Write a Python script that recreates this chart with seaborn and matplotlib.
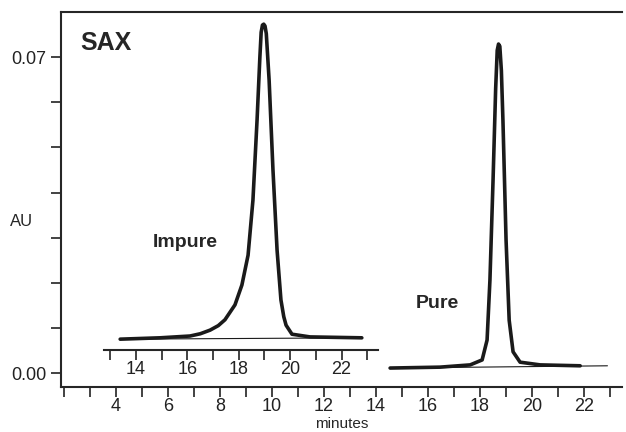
import matplotlib
matplotlib.use("Agg")
import matplotlib.pyplot as plt
import seaborn as sns

sns.set_style("ticks")
plt.rcParams['font.family'] = ['Liberation Sans', 'DejaVu Sans']

impure_t = [13.38,14.93,16.10,16.50,16.88,17.20,17.46,17.85,18.12,18.36,18.55,18.71,18.82,18.87,18.92,18.97,19.02,19.07,19.18,19.33,19.49,19.64,19.75,19.84,20.07,20.77,22.79]
impure_au = [.0075,.0078,.0082,.0087,.0095,.0105,.0118,.0151,.0195,.0261,.0383,.0560,.0700,.0755,.0771,.0773,.0769,.0752,.0649,.0450,.0272,.0162,.0125,.0106,.0086,.0080,.0078]
pure_t = [14.54,16.46,17.62,18.08,18.27,18.38,18.5,18.60,18.66,18.71,18.76,18.82,18.88,19.0,19.12,19.27,19.54,20.31,21.85]
pure_au = [.0011,.0013,.0018,.0029,.0073,.0206,.0428,.0630,.0715,.0729,.0724,.0670,.0560,.0295,.0117,.0047,.0024,.0018,.0016]
impure_base_t = [13.38, 22.79]
impure_base_au = [.0075, .0078]
pure_base_t = [14.54, 22.9]
pure_base_au = [.0011, .0016]
main_ticks = [4,6,8,10,12,14,16,18,20,22]
inset_ticks = [14,16,18,20,22]

W, H = 626, 432
fig = plt.figure(figsize=(6.26, 4.32), dpi=100)
ax = fig.add_axes([61/W, 1-387/H, (622-61)/W, (387-12)/H])
ax.set_xlim(1.88, 23.46)
ax.set_ylim(-0.0031, 0.080)
ax.spines['right'].set_visible(False)
for s in ax.spines.values():
    s.set_linewidth(1.5)
ax.set_xticks(main_ticks)
ax.set_xticks(range(2, 24), minor=True)
ax.set_yticks([0.0, 0.07])
ax.set_yticklabels(['0.00', '0.07'])
ax.set_yticks([i*0.01 for i in range(1, 7)], minor=True)
ax.tick_params(which='both', direction='out', length=7, width=1.2, labelsize=13, colors='#222222')
ax.tick_params(axis='x', which='major', pad=1)
ax.set_xlabel('minutes', fontsize=11, labelpad=1)
ax.text(-0.07, 0.43, 'AU', transform=ax.transAxes, fontsize=12, ha='center')
ax.text(0.035, 0.90, 'SAX', transform=ax.transAxes, fontsize=18, fontweight='bold')
sns.lineplot(x=pure_t, y=pure_au, ax=ax, color='#1a1a1a', lw=2.6, sort=False, estimator=None)
ax.plot(pure_base_t, pure_base_au, color='#1a1a1a', lw=0.8)
ax.text(15.54, 0.0144, 'Pure', fontsize=14, fontweight='bold')

ax2 = fig.add_axes([104/W, 1-350/H, (378-104)/W, (350-12)/H])
ax2.patch.set_alpha(0)
ax2.set_xlim(12.75, 23.42)
ax2.set_ylim(0.0051, 0.080)
for k in ['top', 'right', 'left']:
    ax2.spines[k].set_visible(False)
ax2.spines['bottom'].set_linewidth(1.5)
ax2.set_yticks([])
ax2.set_xticks(inset_ticks)
ax2.set_xticks(range(13, 24), minor=True)
ax2.tick_params(which='both', direction='out', length=7, width=1.2, labelsize=13, colors='#222222', pad=1)
sns.lineplot(x=impure_t, y=impure_au, ax=ax2, color='#1a1a1a', lw=2.6, sort=False, estimator=None)
ax2.plot(impure_base_t, impure_base_au, color='#1a1a1a', lw=0.8)
ax2.text(14.66, 0.028, 'Impure', fontsize=14, fontweight='bold')

fig.savefig('out.png', dpi=100)
